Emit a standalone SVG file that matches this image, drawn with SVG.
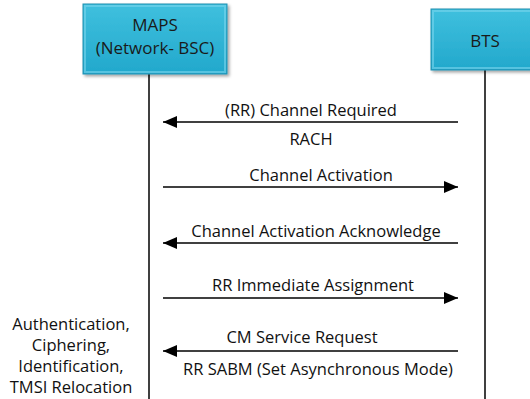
<svg xmlns="http://www.w3.org/2000/svg" width="530" height="399" viewBox="0 0 530 399">
<style>
.box{fill:url(#g);stroke:#1e8fb0;stroke-width:1}
.bev{fill:none;stroke:#7ad6ec;stroke-width:2;opacity:0.6}
.bt{font-family:"Open Sans","Liberation Sans",sans-serif;font-size:17px;fill:#1a1a1a;text-anchor:middle}
.t{font-family:"Open Sans","Liberation Sans",sans-serif;font-size:16.5px;fill:#111;text-anchor:middle}
.life{stroke:#000;stroke-width:1.5}
.msg{stroke:#000;stroke-width:1.5;fill:none}
</style>
<defs>
<linearGradient id="g" x1="0" y1="0" x2="0" y2="1">
<stop offset="0" stop-color="#3fc0de"/>
<stop offset="1" stop-color="#22a8cc"/>
</linearGradient>
<filter id="sh" x="-10%" y="-10%" width="130%" height="130%">
<feDropShadow dx="2" dy="2" stdDeviation="1.5" flood-color="#000" flood-opacity="0.35"/>
</filter>
<marker id="ah" viewBox="0 0 14 12" refX="14" refY="6" markerWidth="14" markerHeight="12" markerUnits="userSpaceOnUse" orient="auto">
<path d="M0,0 L14,6 L0,12 Z" fill="#000"/>
</marker>
</defs>
<rect width="530" height="399" fill="#fff"/>
<g id="lifelines">
<line class="life" x1="149" y1="74" x2="149" y2="399"/>
<line class="life" x1="485" y1="70" x2="485" y2="399"/>
</g>
<g id="maps">
<rect class="box" x="83" y="4" width="144" height="70" filter="url(#sh)"/>
<rect class="bev" x="85" y="6" width="140" height="66"/>
<text class="bt" x="155" y="31">MAPS</text>
<text class="bt" x="155" y="54">(Network- BSC)</text>
</g>
<g id="bts">
<rect class="box" x="431" y="9" width="110" height="61" filter="url(#sh)"/>
<rect class="bev" x="433" y="11" width="106" height="57"/>
<text class="bt" x="485" y="47">BTS</text>
</g>
<g id="connectors">
<line class="msg" x1="458" y1="122" x2="163" y2="122" marker-end="url(#ah)"/>
<line class="msg" x1="163" y1="187" x2="458" y2="187" marker-end="url(#ah)"/>
<line class="msg" x1="458" y1="243" x2="163" y2="243" marker-end="url(#ah)"/>
<line class="msg" x1="163" y1="298" x2="458" y2="298" marker-end="url(#ah)"/>
<line class="msg" x1="458" y1="351" x2="163" y2="351" marker-end="url(#ah)"/>
</g>
<g id="labels">
<text class="t" x="311" y="116">(RR) Channel Required</text>
<text class="t" x="311" y="145">RACH</text>
<text class="t" x="321" y="181">Channel Activation</text>
<text class="t" x="316" y="237">Channel Activation Acknowledge</text>
<text class="t" x="313" y="291">RR Immediate Assignment</text>
<text class="t" x="302" y="343">CM Service Request</text>
<text class="t" x="318" y="375">RR SABM (Set Asynchronous Mode)</text>
<text class="t" x="71" y="330">Authentication,</text>
<text class="t" x="71" y="351">Ciphering,</text>
<text class="t" x="71" y="372">Identification,</text>
<text class="t" x="71" y="393">TMSI Relocation</text>
</g>
</svg>
